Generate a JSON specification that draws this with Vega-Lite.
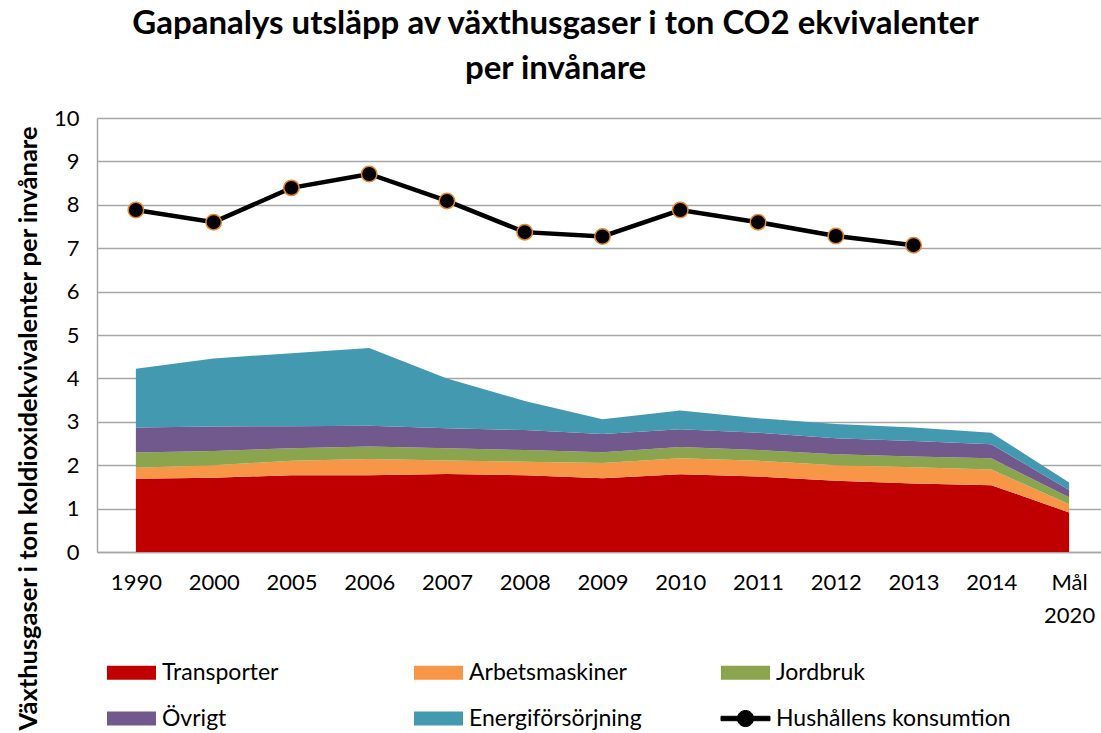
{
  "$schema": "https://vega.github.io/schema/vega-lite/v6.json",
  "width": 1011,
  "height": 434,
  "autosize": "none",
  "padding": {"left": 97, "top": 118, "right": 0, "bottom": 181},
  "background": "white",
  "config": {
    "font": "Lato",
    "view": {"stroke": null},
    "axis": {"labelFont": "Lato", "titleFont": "Lato"}
  },
  "title": {
    "text": ["Gapanalys utsläpp av växthusgaser i ton CO2 ekvivalenter", "per invånare"],
    "font": "Lato",
    "fontSize": 33,
    "fontWeight": "bold",
    "color": "#000000",
    "anchor": "middle",
    "lineHeight": 45,
    "dx": -47,
    "offset": 21
  },
  "data": {
    "values": [
      {"year": "1990", "series": "Transporter", "value": 1.69},
      {"year": "1990", "series": "Arbetsmaskiner", "value": 0.25},
      {"year": "1990", "series": "Jordbruk", "value": 0.35},
      {"year": "1990", "series": "Övrigt", "value": 0.58},
      {"year": "1990", "series": "Energiförsörjning", "value": 1.35},
      {"year": "1990", "series": "Hushållens konsumtion", "value": 7.88},
      {"year": "2000", "series": "Transporter", "value": 1.71},
      {"year": "2000", "series": "Arbetsmaskiner", "value": 0.29},
      {"year": "2000", "series": "Jordbruk", "value": 0.33},
      {"year": "2000", "series": "Övrigt", "value": 0.56},
      {"year": "2000", "series": "Energiförsörjning", "value": 1.57},
      {"year": "2000", "series": "Hushållens konsumtion", "value": 7.6},
      {"year": "2005", "series": "Transporter", "value": 1.77},
      {"year": "2005", "series": "Arbetsmaskiner", "value": 0.33},
      {"year": "2005", "series": "Jordbruk", "value": 0.29},
      {"year": "2005", "series": "Övrigt", "value": 0.51},
      {"year": "2005", "series": "Energiförsörjning", "value": 1.68},
      {"year": "2005", "series": "Hushållens konsumtion", "value": 8.39},
      {"year": "2006", "series": "Transporter", "value": 1.77},
      {"year": "2006", "series": "Arbetsmaskiner", "value": 0.37},
      {"year": "2006", "series": "Jordbruk", "value": 0.29},
      {"year": "2006", "series": "Övrigt", "value": 0.48},
      {"year": "2006", "series": "Energiförsörjning", "value": 1.79},
      {"year": "2006", "series": "Hushållens konsumtion", "value": 8.71},
      {"year": "2007", "series": "Transporter", "value": 1.8},
      {"year": "2007", "series": "Arbetsmaskiner", "value": 0.31},
      {"year": "2007", "series": "Jordbruk", "value": 0.28},
      {"year": "2007", "series": "Övrigt", "value": 0.46},
      {"year": "2007", "series": "Energiförsörjning", "value": 1.15},
      {"year": "2007", "series": "Hushållens konsumtion", "value": 8.09},
      {"year": "2008", "series": "Transporter", "value": 1.77},
      {"year": "2008", "series": "Arbetsmaskiner", "value": 0.31},
      {"year": "2008", "series": "Jordbruk", "value": 0.27},
      {"year": "2008", "series": "Övrigt", "value": 0.46},
      {"year": "2008", "series": "Energiförsörjning", "value": 0.67},
      {"year": "2008", "series": "Hushållens konsumtion", "value": 7.37},
      {"year": "2009", "series": "Transporter", "value": 1.7},
      {"year": "2009", "series": "Arbetsmaskiner", "value": 0.35},
      {"year": "2009", "series": "Jordbruk", "value": 0.25},
      {"year": "2009", "series": "Övrigt", "value": 0.42},
      {"year": "2009", "series": "Energiförsörjning", "value": 0.34},
      {"year": "2009", "series": "Hushållens konsumtion", "value": 7.27},
      {"year": "2010", "series": "Transporter", "value": 1.79},
      {"year": "2010", "series": "Arbetsmaskiner", "value": 0.37},
      {"year": "2010", "series": "Jordbruk", "value": 0.26},
      {"year": "2010", "series": "Övrigt", "value": 0.41},
      {"year": "2010", "series": "Energiförsörjning", "value": 0.43},
      {"year": "2010", "series": "Hushållens konsumtion", "value": 7.88},
      {"year": "2011", "series": "Transporter", "value": 1.74},
      {"year": "2011", "series": "Arbetsmaskiner", "value": 0.36},
      {"year": "2011", "series": "Jordbruk", "value": 0.25},
      {"year": "2011", "series": "Övrigt", "value": 0.4},
      {"year": "2011", "series": "Energiförsörjning", "value": 0.33},
      {"year": "2011", "series": "Hushållens konsumtion", "value": 7.6},
      {"year": "2012", "series": "Transporter", "value": 1.64},
      {"year": "2012", "series": "Arbetsmaskiner", "value": 0.36},
      {"year": "2012", "series": "Jordbruk", "value": 0.25},
      {"year": "2012", "series": "Övrigt", "value": 0.37},
      {"year": "2012", "series": "Energiförsörjning", "value": 0.33},
      {"year": "2012", "series": "Hushållens konsumtion", "value": 7.28},
      {"year": "2013", "series": "Transporter", "value": 1.58},
      {"year": "2013", "series": "Arbetsmaskiner", "value": 0.37},
      {"year": "2013", "series": "Jordbruk", "value": 0.25},
      {"year": "2013", "series": "Övrigt", "value": 0.36},
      {"year": "2013", "series": "Energiförsörjning", "value": 0.31},
      {"year": "2013", "series": "Hushållens konsumtion", "value": 7.07},
      {"year": "2014", "series": "Transporter", "value": 1.54},
      {"year": "2014", "series": "Arbetsmaskiner", "value": 0.36},
      {"year": "2014", "series": "Jordbruk", "value": 0.26},
      {"year": "2014", "series": "Övrigt", "value": 0.32},
      {"year": "2014", "series": "Energiförsörjning", "value": 0.27},
      {"year": "Mål 2020", "series": "Transporter", "value": 0.91},
      {"year": "Mål 2020", "series": "Arbetsmaskiner", "value": 0.19},
      {"year": "Mål 2020", "series": "Jordbruk", "value": 0.16},
      {"year": "Mål 2020", "series": "Övrigt", "value": 0.17},
      {"year": "Mål 2020", "series": "Energiförsörjning", "value": 0.17}
    ]
  },
  "encoding": {
    "x": {
      "field": "year",
      "type": "ordinal",
      "sort": null,
      "scale": {"type": "point", "padding": 0.5},
      "axis": {
        "title": null,
        "labelAngle": 0,
        "labelFontSize": 22,
        "labelColor": "#000000",
        "labelPadding": 20,
        "labelLineHeight": 33,
        "labelBaseline": "top",
        "labelExpr": "datum.label == 'Mål 2020' ? ['Mål', '2020'] : datum.label",
        "domainColor": "#a6a6a6",
        "domainWidth": 1.5,
        "ticks": false,
        "grid": false
      }
    }
  },
  "layer": [
    {
      "transform": [
        {"filter": "datum.series != 'Hushållens konsumtion'"},
        {"calculate": "indexof(['Transporter','Arbetsmaskiner','Jordbruk','Övrigt','Energiförsörjning'], datum.series)", "as": "ord"}
      ],
      "mark": {"type": "area", "opacity": 1},
      "encoding": {
        "y": {
          "field": "value",
          "type": "quantitative",
          "stack": "zero",
          "scale": {"domain": [0, 10], "nice": false},
          "axis": {
            "title": "Växthusgaser i ton koldioxidekvivalenter per invånare",
            "titleFontSize": 25.5,
            "titleFontWeight": "bold",
            "titleColor": "#000000",
            "titleAngle": 270,
            "titleAlign": "center",
            "titleBaseline": "middle",
            "titleX": -69,
            "titleY": 310,
            "values": [0, 1, 2, 3, 4, 5, 6, 7, 8, 9, 10],
            "labelFontSize": 22,
            "labelColor": "#000000",
            "labelPadding": 18,
            "ticks": false,
            "domainColor": "#a6a6a6",
            "domainWidth": 1.5,
            "gridColor": "#a6a6a6",
            "gridWidth": 1.5
          }
        },
        "order": {"field": "ord", "type": "quantitative", "sort": "ascending"},
        "color": {
          "field": "series",
          "type": "nominal",
          "scale": {
            "domain": ["Transporter", "Arbetsmaskiner", "Jordbruk", "Övrigt", "Energiförsörjning", "Hushållens konsumtion"],
            "range": ["#c00000", "#f79646", "#8aa54e", "#72598d", "#4399b0", "#000000"]
          },
          "legend": {
            "title": null,
            "orient": "none",
            "legendX": 9,
            "legendY": 543,
            "direction": "horizontal",
            "columns": 3,
            "gridAlign": "all",
            "columnPadding": 15,
            "rowPadding": 22,
            "labelFontSize": 23,
            "labelColor": "#000000",
            "labelLimit": 400,
            "labelOffset": 19,
            "symbolOffset": 14,
            "symbolSize": 2401,
            "symbolType": "M-1,-0.29H1V0.29H-1Z",
            "symbolOpacity": 1,
            "symbolStrokeWidth": 0,
            "encode": {
              "symbols": {
                "update": {
                  "shape": {"signal": "datum.value == 'Hushållens konsumtion' ? 'M-1,-0.09H1V0.09H-1Z M0.33,0A0.33,0.33,0,1,1,-0.33,0A0.33,0.33,0,1,1,0.33,0Z' : 'M-1,-0.29H1V0.29H-1Z'"},
                  "stroke": {"signal": "datum.value == 'Hushållens konsumtion' ? '#e8892f' : 'transparent'"},
                  "strokeWidth": {"signal": "datum.value == 'Hushållens konsumtion' ? 1 : 0"}
                }
              }
            }
          }
        }
      }
    },
    {
      "transform": [{"filter": "datum.series == 'Hushållens konsumtion'"}],
      "mark": {"type": "line", "strokeWidth": 4.5, "color": "#000000"},
      "encoding": {
        "y": {"field": "value", "type": "quantitative"},
        "color": {"field": "series", "type": "nominal"}
      }
    },
    {
      "transform": [{"filter": "datum.series == 'Hushållens konsumtion'"}],
      "mark": {"type": "point", "filled": true, "fill": "#000000", "stroke": "#e8892f", "strokeWidth": 1.5, "size": 240, "opacity": 1},
      "encoding": {
        "y": {"field": "value", "type": "quantitative"}
      }
    }
  ]
}
